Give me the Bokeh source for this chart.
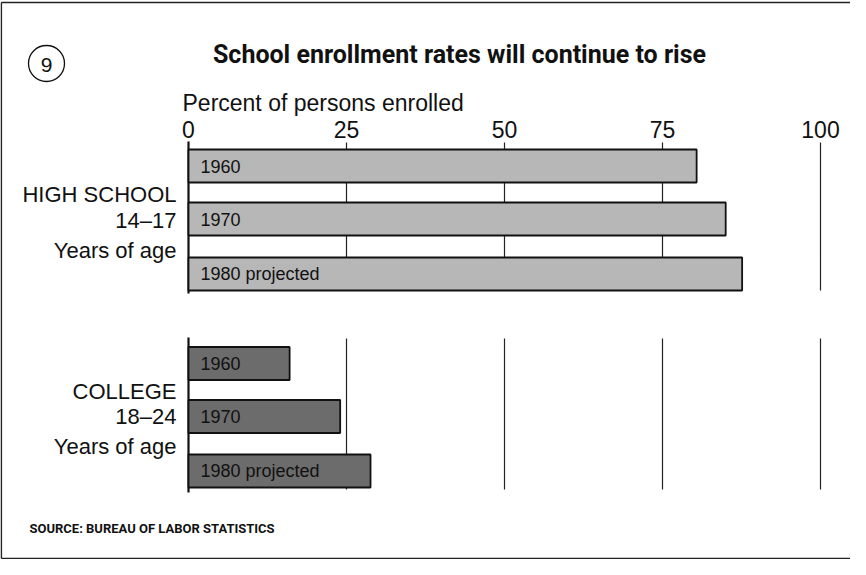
from bokeh.plotting import figure
from bokeh.models import Range1d, ColumnDataSource
from bokeh.core.properties import value
from bokeh.embed import file_html
from bokeh.resources import INLINE

# ---- data ----
years = ["1960", "1970", "1980 projected"]
high_school = [80.4, 85.0, 87.6]
college = [16.0, 24.0, 28.8]
ticks = [0, 25, 50, 75, 100]
tick_labels = ["0", "25", "50", "75", "100"]
title = "School enrollment rates will continue to rise"
axis_title = "Percent of persons enrolled"
hs_label = ["HIGH SCHOOL", "14\u201317", "Years of age"]
col_label = ["COLLEGE", "18\u201324", "Years of age"]
source_note = "SOURCE: BUREAU OF LABOR STATISTICS"

# ---- layout (page pixel coordinates) ----
W, H = 850, 559
X0, SCALE = 196.0, 6.32   # page x of 0%, pixels per percent


def px(xpage):
    return (xpage - X0) / SCALE


p = figure(width=W, height=H, output_backend="svg", toolbar_location=None,
           x_range=Range1d(px(8), px(8 + W)), y_range=Range1d(8 + H, 8),
           min_border=0, border_fill_color="white", background_fill_color="white")
p.axis.visible = False
p.grid.visible = False
p.outline_line_color = None

TFONT = value("Roboto")
FONT = value("Liberation Sans")

# frame
p.segment(x0=[px(8.8), px(8.8), px(8.8)], y0=[10, 10, 566], x1=[px(8.8), px(866), px(866)],
          y1=[566, 10, 566], line_color="#222222", line_width=1.6)

# circle with number
p.scatter(x=[px(54)], y=[71], size=36, marker="circle", fill_color=None,
          line_color="#111111", line_width=1.3)
p.text(x=[px(54)], y=[72], text=["9"], text_font=FONT, text_font_size="21px",
       text_align="center", text_baseline="middle", text_color="#111111")

# title
p.text(x=[px(467)], y=[62], text=[title], text_font=TFONT, text_font_style="bold",
       text_font_size="25px", text_align="center", text_baseline="middle", text_color="#111111")

# axis title and ticks
p.text(x=[px(190)], y=[110], text=[axis_title], text_font=FONT, text_font_size="23px",
       text_align="left", text_baseline="middle", text_color="#111111")
p.text(x=ticks, y=[137] * len(ticks), text=tick_labels, text_font=FONT, text_font_size="23px",
       text_align="center", text_baseline="middle", text_color="#111111")

sections = [
    dict(vals=high_school, centers=[173.5, 226.5, 281.5], top=149, bottom=301,
         color="#b7b7b7", labels=hs_label, label_y=[202, 228, 258]),
    dict(vals=college, centers=[371, 424, 478.5], top=345, bottom=500,
         color="#6c6c6c", labels=col_label, label_y=[399, 424, 454]),
]

for s in sections:
    gx = ticks[1:]
    p.segment(x0=gx, y0=[s["top"] + 1] * len(gx), x1=gx, y1=[s["bottom"] - 3] * len(gx),
              line_color="#222222", line_width=1.2)
    p.segment(x0=[0], y0=[s["top"]], x1=[0], y1=[s["bottom"]], line_color="#111111", line_width=2.2)
    src = ColumnDataSource(dict(y=s["centers"], right=s["vals"], label=years))
    p.hbar(y="y", left=0, right="right", height=33, source=src, fill_color=s["color"],
           line_color="#111111", line_width=1.8)
    p.text(x=px(208), y="y", text="label", source=src, text_font=FONT, text_font_size="18px",
           text_align="left", text_baseline="middle", text_color="#111111")
    p.text(x=[px(184)] * 3, y=s["label_y"], text=s["labels"], text_font=FONT,
           text_font_size="22px", text_align="right", text_baseline="middle", text_color="#111111")

p.text(x=[px(37)], y=[536], text=[source_note], text_font=TFONT, text_font_style="bold",
       text_font_size="13px", text_align="left", text_baseline="middle", text_color="#111111")

open("out.html", "w").write(file_html(p, INLINE))
